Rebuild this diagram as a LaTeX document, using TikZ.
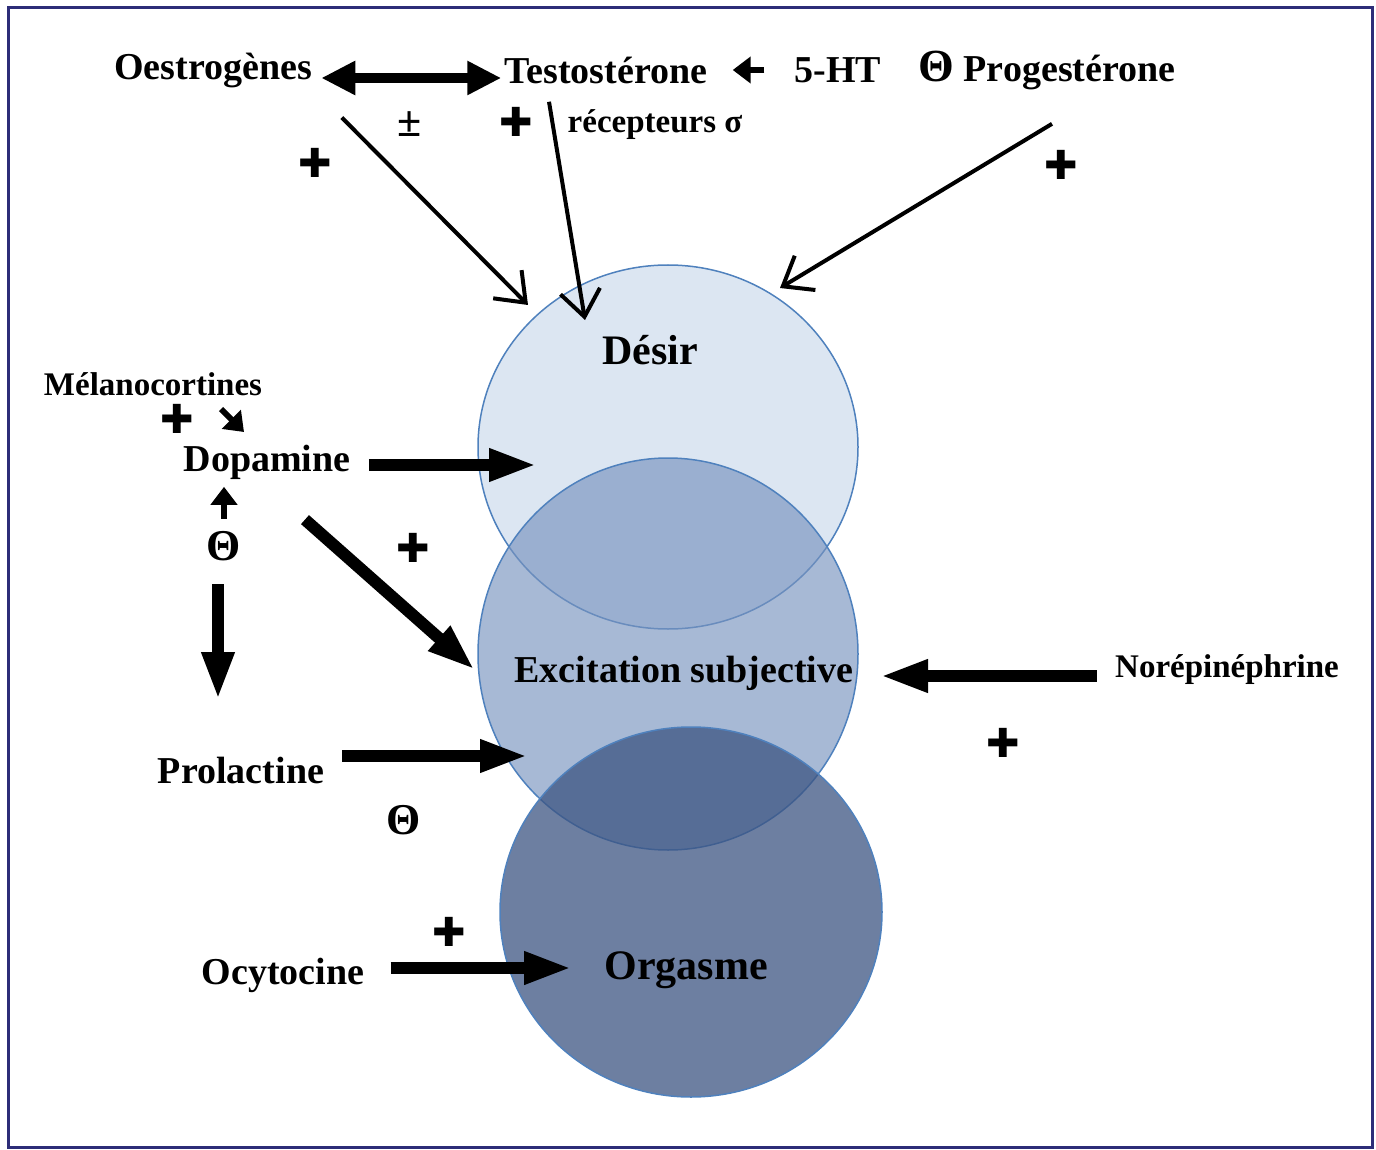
\documentclass[tikz,border=0pt]{standalone}
\usepackage{fontspec}
\setmainfont{Liberation Serif}
\newfontfamily\symbfont{DejaVu Sans}
\usetikzlibrary{arrows.meta, shapes.geometric}

\definecolor{framecol}{RGB}{45,45,120}
\definecolor{rimcol}{RGB}{79,129,189}
\definecolor{desircol}{RGB}{220,230,242}
\definecolor{excitcol}{RGB}{120,147,190}
\definecolor{orgcol}{RGB}{60,84,130}

\tikzset{
	lbl/.style={font=\bfseries\fontsize{19}{22}\selectfont, inner sep=0pt},
	smalllbl/.style={font=\bfseries\fontsize{16.5}{20}\selectfont, inner sep=0pt},
	biglbl/.style={font=\bfseries\fontsize{21}{24}\selectfont, inner sep=0pt},
	inhib/.style={font=\bfseries\fontsize{22}{24}\selectfont, inner sep=0pt},
	sgn/.style={font=\symbfont\bfseries\fontsize{20}{22}\selectfont, inner sep=0pt},
	zone/.style={ellipse, draw=rimcol, line width=0.75pt, inner sep=0pt},
	thinarrow/.style={line width=2pt, -{Straight Barb[length=13pt,width=20pt]}},
	fatarrow/.style={line width=6pt, -{Triangle[length=24pt,width=15pt]}},
	dblarrow/.style={line width=5pt, {Triangle[length=17pt,width=16pt]}-{Triangle[length=17pt,width=16pt]}},
	tinyarrow/.style={line width=3pt, -{Triangle[length=9pt,width=13pt]}}
}

\begin{document}
\begin{tikzpicture}[x=0.5pt, y=-0.5pt]
	\useasboundingbox (0,0) rectangle (1376,1150);
	\draw[framecol, line width=1.5pt] (8,8) rectangle (1372,1147);

	% the three zones
	\node[zone, fill=desircol, minimum width=190pt, minimum height=182pt] (desir) at (668,447) {};
	\node[zone, fill=excitcol, fill opacity=0.65, minimum width=190pt, minimum height=196pt] (excit) at (668,654) {};
	\node[zone, fill=orgcol, fill opacity=0.75, minimum width=191pt, minimum height=185pt] (orgasm) at (691,912) {};

	\node[biglbl] (desirtxt) at (650,350) {Désir};
	\node[lbl] (excittxt) at (684,673) {Excitation subjective};
	\node[biglbl] (orgtxt) at (686,970) {Orgasme};

	% hormones
	\node[lbl] (oestro) at (213,70) {Oestrogènes};
	\node[lbl] (testo) at (606,70) {Testostérone};
	\node[lbl] (ht) at (838,70) {5-HT};
	\node[lbl] (prog) at (1047,70) {{\fontsize{23}{24}\selectfont Θ} Progestérone};
	\node[smalllbl] (recep) at (655,125) {récepteurs σ};
	\node[smalllbl] (melano) at (153,384) {Mélanocortines};
	\node[lbl] (dopa) at (267,462) {Dopamine};
	\node[inhib] (inhib1) at (224,546) {Θ};
	\node[smalllbl] (nore) at (1227,670) {Norépinéphrine};
	\node[lbl] (prola) at (241,770) {Prolactine};
	\node[inhib] (inhib2) at (404,820) {Θ};
	\node[lbl] (ocyto) at (283,975) {Ocytocine};

	% signs
	\node[inhib] (pm) at (410,124) {±};
	\node[sgn] (plus1) at (516,122) {✚};
	\node[sgn] (plus2) at (315,163) {✚};
	\node[sgn] (plus3) at (1061,165) {✚};
	\node[sgn] (plus4) at (177,419) {✚};
	\node[sgn] (plus5) at (413,548) {✚};
	\node[sgn] (plus6) at (1003,743) {✚};
	\node[sgn] (plus7) at (449,932) {✚};

	% free ends
	\coordinate (d1) at (528,305);
	\coordinate (d2) at (585,320);
	\coordinate (d3) at (780,288);
	\coordinate (d4) at (537,465);
	\coordinate (e1) at (475,670);
	\coordinate (e2) at (528,756);
	\coordinate (e3) at (880,676);
	\coordinate (o1) at (572,968);
	\coordinate (p1) at (218,700);
	\coordinate (m1) at (221,409);
	\coordinate (m2) at (244,432);

	\draw[dblarrow] ([xshift=4.5pt, yshift=-4pt]oestro.east) -- ([xshift=-1.5pt, yshift=-4pt]testo.west);
	\draw[tinyarrow, shorten <=15pt, shorten >=12.5pt] (ht.west) -- (testo.east);

	\draw[thinarrow, shorten <=21pt] (oestro.south east) -- (d1);
	\draw[thinarrow] ([xshift=-28.5pt, yshift=-9pt]testo.south) -- (d2);
	\draw[thinarrow] ([xshift=2.5pt, yshift=-17pt]prog.south) -- (d3);

	\draw[tinyarrow] (m1) -- (m2);
	\draw[tinyarrow] ([yshift=6pt]inhib1.north) -- ([yshift=22pt]inhib1.north);

	\draw[fatarrow, shorten <=9pt] ([yshift=-1.5pt]dopa.east) -- (d4);
	\draw[fatarrow] ([xshift=19pt, yshift=-20pt]dopa.south) -- (e1);
	\draw[fatarrow] ([xshift=-3pt, yshift=-11.5pt]inhib1.south) -- (p1);
	\draw[fatarrow, shorten <=9pt] ([yshift=7pt]prola.east) -- (e2);
	\draw[fatarrow, shorten <=9pt] ([yshift=-3pt]nore.west) -- (e3);
	\draw[fatarrow, shorten <=13pt] ([yshift=3.5pt]ocyto.east) -- (o1);
\end{tikzpicture}
\end{document}
